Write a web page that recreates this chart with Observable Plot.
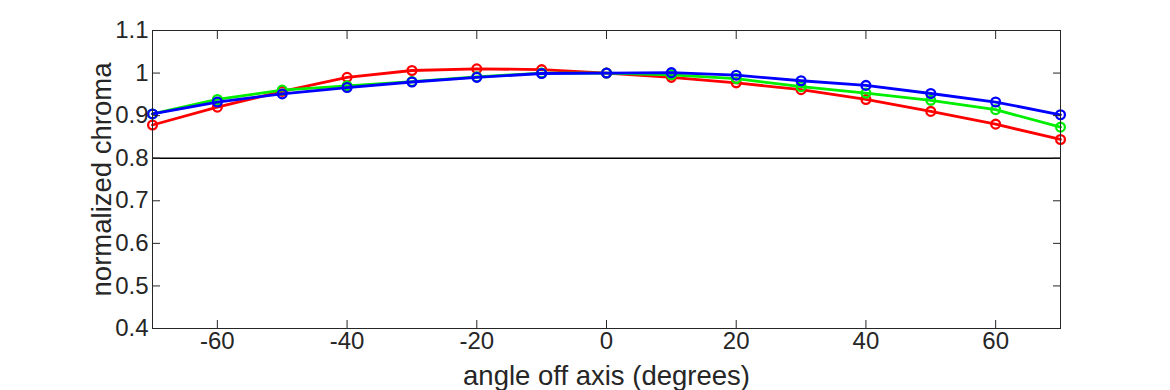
<!DOCTYPE html>
<html>
<head>
<meta charset="utf-8">
<script src="https://cdn.jsdelivr.net/npm/d3@7"></script>
<script src="https://cdn.jsdelivr.net/npm/@observablehq/plot@0.6"></script>
<style>
  html, body { margin: 0; padding: 0; background: #fff; }
  #chart svg { display: block; }
</style>
</head>
<body>
<div id="chart"></div>
<script>
// ---- data ----
const angles = [-70, -60, -50, -40, -30, -20, -10, 0, 10, 20, 30, 40, 50, 60, 70];
const redValues   = [0.878, 0.920, 0.957, 0.990, 1.006, 1.010, 1.008, 1.000, 0.990, 0.977, 0.961, 0.938, 0.910, 0.880, 0.844];
const greenValues = [0.904, 0.938, 0.960, 0.970, 0.980, 0.991, 1.000, 1.000, 0.996, 0.987, 0.968, 0.953, 0.936, 0.914, 0.873];
const blueValues  = [0.904, 0.932, 0.951, 0.966, 0.979, 0.990, 0.999, 1.000, 1.001, 0.995, 0.982, 0.971, 0.952, 0.932, 0.902];
const seriesNames = ["red", "green", "blue"];
const seriesColors = ["#ff0000", "#00ee00", "#0000ff"];
const xTicks = [-60, -40, -20, 0, 20, 40, 60];
const yTicks = [0.4, 0.5, 0.6, 0.7, 0.8, 0.9, 1.0, 1.1];
const yTickLabels = ["0.4", "0.5", "0.6", "0.7", "0.8", "0.9", "1", "1.1"];
const refLine = [0.8];
const xLabel = "angle off axis (degrees)";
const yLabel = "normalized chroma";

const seriesValues = [redValues, greenValues, blueValues];
const rows = seriesNames.flatMap((name, i) =>
  angles.map((a, j) => ({series: name, angle: a, value: seriesValues[i][j]}))
);

const axisColor = "#262626";
const tickFont = 24;
const labelFont = 27.5;

const lineMarks = seriesNames.flatMap((name, i) => [
  Plot.line(rows.filter(d => d.series === name), {x: "angle", y: "value", stroke: seriesColors[i], strokeWidth: 2.8}),
  Plot.dot(rows.filter(d => d.series === name), {x: "angle", y: "value", stroke: seriesColors[i], strokeWidth: 2.3, r: 4.4, fill: "none"})
]);

const chart = Plot.plot({
  width: 1170,
  height: 390,
  marginLeft: 152,
  marginRight: 110,
  marginTop: 30,
  marginBottom: 62,
  x: {domain: [-70, 70]},
  y: {domain: [0.4, 1.1]},
  style: {fontFamily: "'Liberation Sans', Arial, Helvetica, sans-serif", background: "#fff", color: axisColor},
  marks: [
    Plot.ruleY(refLine, {stroke: "#000", strokeWidth: 1.4}),
    ...lineMarks,
    Plot.frame({stroke: axisColor, strokeWidth: 1}),
    // tick labels
    Plot.axisX({anchor: "bottom", ticks: xTicks, tickSize: 0, tickPadding: 3, fontSize: tickFont, label: null, tickFormat: d => d === 0 ? "0" : String(d)}),
    Plot.axisY({anchor: "left", ticks: yTicks, tickSize: 0, tickPadding: 4, fontSize: tickFont, label: null, tickFormat: d => yTickLabels[yTicks.findIndex(t => Math.abs(t - d) < 1e-9)]}),
    // inward ticks on all four sides
    Plot.axisX({anchor: "bottom", ticks: xTicks, tickSize: -8, tickFormat: () => "", label: null, stroke: axisColor}),
    Plot.axisX({anchor: "top", ticks: xTicks, tickSize: -8, tickFormat: () => "", label: null, stroke: axisColor}),
    Plot.axisY({anchor: "left", ticks: yTicks, tickSize: -8, tickFormat: () => "", label: null, stroke: axisColor}),
    Plot.axisY({anchor: "right", ticks: yTicks, tickSize: -8, tickFormat: () => "", label: null, stroke: axisColor}),
    // axis titles
    Plot.text([xLabel], {frameAnchor: "bottom", lineAnchor: "middle", textAnchor: "middle", dy: 48, text: d => d, fontSize: labelFont, fill: axisColor}),
    Plot.text([yLabel], {frameAnchor: "left", lineAnchor: "middle", textAnchor: "middle", dx: -50, rotate: -90, text: d => d, fontSize: labelFont, fill: axisColor})
  ]
});

document.getElementById("chart").appendChild(chart);
</script>
</body>
</html>
